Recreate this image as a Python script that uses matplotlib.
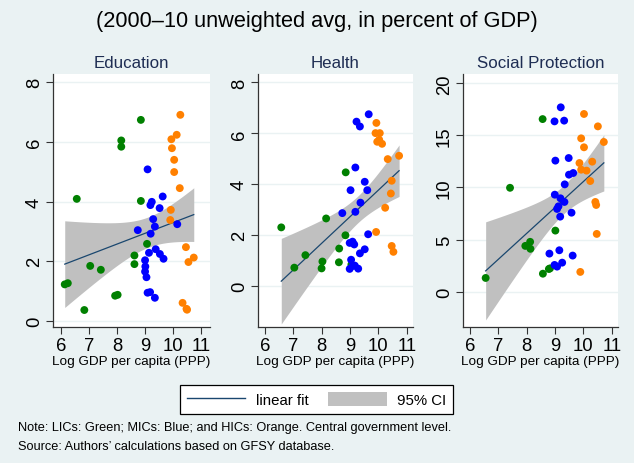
import numpy as np
import matplotlib
matplotlib.use("Agg")
import matplotlib.pyplot as plt
from matplotlib.lines import Line2D
from matplotlib.patches import Patch

plt.rcParams["font.family"] = ["Liberation Sans", "DejaVu Sans"]

# --- data (log GDP per capita, spending % of GDP) ----
edu_lic_x = [6.13, 6.24, 6.56, 6.83, 7.04, 7.42, 7.93, 8.02, 8.15, 8.15, 8.62, 8.62, 8.85, 8.85, 9.07]
edu_lic_y = [1.22, 1.26, 4.09, 0.36, 1.84, 1.71, 0.84, 0.87, 6.05, 5.84, 2.19, 1.90, 6.74, 4.02, 2.58]
edu_mic_x = [9.09, 9.63, 9.24, 9.19, 9.52, 9.29, 9.35, 8.74, 9.20, 10.15, 9.14,
             9.38, 9.53, 9.66, 9.00, 9.01, 9.00, 9.05, 9.09, 9.18, 9.35]
edu_mic_y = [5.08, 4.17, 3.99, 3.88, 3.78, 3.41, 3.16, 3.04, 2.92, 3.24, 2.28,
             2.40, 2.24, 2.08, 2.03, 1.82, 1.65, 1.46, 0.94, 0.96, 0.77]
edu_hic_x = [10.26, 10.13, 9.94, 9.96, 10.04, 10.04, 10.24, 9.92, 9.90, 10.46, 10.74, 10.55, 10.34, 10.48, 10.50]
edu_hic_y = [6.91, 6.24, 6.09, 5.79, 5.40, 4.99, 4.45, 3.72, 3.38, 2.47, 2.12, 1.97, 0.60, 0.40, 0.37]

hl_lic_x = [6.58, 7.04, 7.43, 8.03, 8.00, 8.16, 8.62, 8.61, 8.84, 8.85, 9.05]
hl_lic_y = [2.31, 0.73, 1.22, 0.97, 0.70, 2.66, 1.48, 0.94, 2.00, 4.47, 0.85]
hl_mic_x = [9.66, 9.23, 9.35, 9.19, 9.52, 9.02, 9.61, 9.37, 8.73, 9.19, 9.64,
            8.99, 9.09, 9.15, 9.52, 9.35, 9.04, 8.99, 9.17, 9.29, 9.10]
hl_mic_y = [6.75, 6.46, 6.27, 4.66, 4.10, 3.77, 3.77, 3.28, 2.87, 2.92, 2.04,
            1.70, 1.75, 1.64, 1.45, 1.29, 1.04, 0.68, 0.81, 0.69, 0.80]
hl_hic_x = [9.93, 9.90, 10.05, 10.03, 9.96, 10.13, 10.33, 10.73, 10.47, 10.44, 10.24, 9.92, 10.47, 10.53]
hl_hic_y = [6.41, 6.01, 6.01, 5.75, 5.67, 5.59, 4.99, 5.12, 4.14, 3.64, 3.08, 2.13, 1.58, 1.35]

sp_lic_x = [6.55, 7.95, 8.12, 8.13, 8.57, 8.78, 8.82, 9.01, 7.41, 8.56]
sp_lic_y = [1.31, 4.39, 4.78, 4.11, 1.72, 2.17, 2.23, 5.86, 9.97, 16.57]
sp_mic_x = [9.20, 8.98, 9.32, 9.01, 9.48, 9.49, 9.64, 9.34, 8.99, 9.19, 9.33,
            9.07, 9.12, 9.18, 9.58, 8.80, 9.15, 9.25, 8.98, 9.07, 9.62]
sp_mic_y = [17.70, 16.35, 16.42, 12.58, 12.83, 11.23, 11.39, 10.30, 9.31, 8.96, 8.61,
            7.94, 8.19, 7.20, 7.58, 3.65, 3.97, 2.78, 2.56, 2.40, 3.46]
sp_hic_x = [10.02, 10.51, 9.92, 10.02, 10.72, 9.86, 10.31, 9.92, 10.11, 10.24, 10.42, 10.45, 10.47, 9.89]
sp_hic_y = [17.06, 15.87, 14.72, 13.86, 14.37, 12.35, 12.48, 11.71, 11.62, 10.62, 8.61, 8.32, 5.54, 1.89]

panel_titles = ["Education", "Health", "Social Protection"]
y_ticks = [[0, 2, 4, 6, 8], [0, 2, 4, 6, 8], [0, 5, 10, 15, 20]]
x_ticks = [6, 7, 8, 9, 10, 11]

BG = "#EAF2F3"
GREEN, BLUE, ORANGE = "#008000", "#0000FF", "#FF8000"
NAVY, CI_GRAY = "#1A476F", "#C0C0C0"


def fit_ci(xs, ys):
    """OLS fit + 95% CI of the mean prediction (what Stata lfitci draws)."""
    x = np.asarray(xs, float)
    y = np.asarray(ys, float)
    n = len(x)
    b1, b0 = np.polyfit(x, y, 1)
    s2 = np.sum((y - (b0 + b1 * x)) ** 2) / (n - 2)
    sxx = np.sum((x - x.mean()) ** 2)
    xg = np.linspace(x.min(), x.max(), 200)
    yg = b0 + b1 * xg
    t = 1.96 + 2.4 / (n - 2)          # close enough to t(.975, n-2) here
    half = t * np.sqrt(s2 * (1.0 / n + (xg - x.mean()) ** 2 / sxx))
    return xg, yg, yg - half, yg + half


panels = [
    ((edu_lic_x, edu_lic_y), (edu_mic_x, edu_mic_y), (edu_hic_x, edu_hic_y), (5.70, 11.32), (-0.21, 8.28)),
    ((hl_lic_x, hl_lic_y), (hl_mic_x, hl_mic_y), (hl_hic_x, hl_hic_y), (5.75, 11.22), (-1.60, 8.33)),
    ((sp_lic_x, sp_lic_y), (sp_mic_x, sp_mic_y), (sp_hic_x, sp_hic_y), (5.74, 11.22), (-3.4, 20.9)),
]
lefts = [52.7, 257.7, 462.7]
rights = [210, 413, 618]
W, H = 634, 464

fig = plt.figure(figsize=(6.34, 4.64), dpi=100, facecolor=BG)
fig.text(0.5, 1 - 22 / H, "(2000\u201310 unweighted avg, in percent of GDP)",
         ha="center", va="center", fontsize=15.7)

for i, (lic, mic, hic, xl, yl) in enumerate(panels):
    ax = fig.add_axes([lefts[i] / W, 1 - 328 / H, (rights[i] - lefts[i]) / W, (328 - 75) / H])
    ax.set_facecolor("white")
    all_x = lic[0] + mic[0] + hic[0]
    all_y = lic[1] + mic[1] + hic[1]
    xg, yg, lo, hi = fit_ci(all_x, all_y)
    for t in y_ticks[i]:
        ax.axhline(t, color=BG, lw=1.0, zorder=0)
    ax.fill_between(xg, lo, hi, color=CI_GRAY, lw=0, zorder=1)
    ax.plot(xg, yg, color=NAVY, lw=0.9, zorder=2)
    for (gx, gy), c in ((lic, GREEN), (mic, BLUE), (hic, ORANGE)):
        ax.scatter(gx, gy, s=32, color=c, edgecolors="none", zorder=3)

    ax.set_xlim(*xl)
    ax.set_ylim(*yl)
    ax.set_xticks(x_ticks)
    ax.set_yticks(y_ticks[i])
    for s in ("top", "right"):
        ax.spines[s].set_visible(False)
    for s in ("left", "bottom"):
        ax.spines[s].set_color("#333333")
        ax.spines[s].set_linewidth(0.9)
    ax.tick_params(direction="out", length=5, width=0.8, color="#333333",
                   labelsize=13.3, pad=2)
    for lab in ax.get_yticklabels():
        lab.set_rotation(90)
        lab.set_va("center")
    ax.set_xlabel("Log GDP per capita (PPP)", fontsize=9.7, labelpad=1)
    fig.text((lefts[i] + rights[i]) / 2 / W, 1 - 63 / H, panel_titles[i],
             ha="center", va="center", fontsize=12.2, color="#1E2D53")

handles = [Line2D([], [], color=NAVY, lw=1.0), Patch(facecolor=CI_GRAY, edgecolor="none")]
leg = fig.legend(handles, ["linear fit", "95% CI"], loc="center",
                 bbox_to_anchor=(316.5 / W, 1 - 400.5 / H), ncol=2, fontsize=10.8,
                 frameon=True, fancybox=False, edgecolor="black", framealpha=1,
                 handlelength=3.9, handleheight=1.1, columnspacing=1.3, handletextpad=0.7,
                 borderpad=0.45, borderaxespad=0)
leg.get_frame().set_linewidth(0.9)

fig.text(18 / W, 1 - 428 / H,
         "Note: LICs: Green; MICs: Blue; and HICs: Orange. Central government level.",
         ha="left", va="center", fontsize=9.2)
fig.text(18 / W, 1 - 447 / H, "Source: Authors\u2019 calculations based on GFSY database.",
         ha="left", va="center", fontsize=9.2)

fig.savefig("out.png", dpi=100, facecolor=BG)
